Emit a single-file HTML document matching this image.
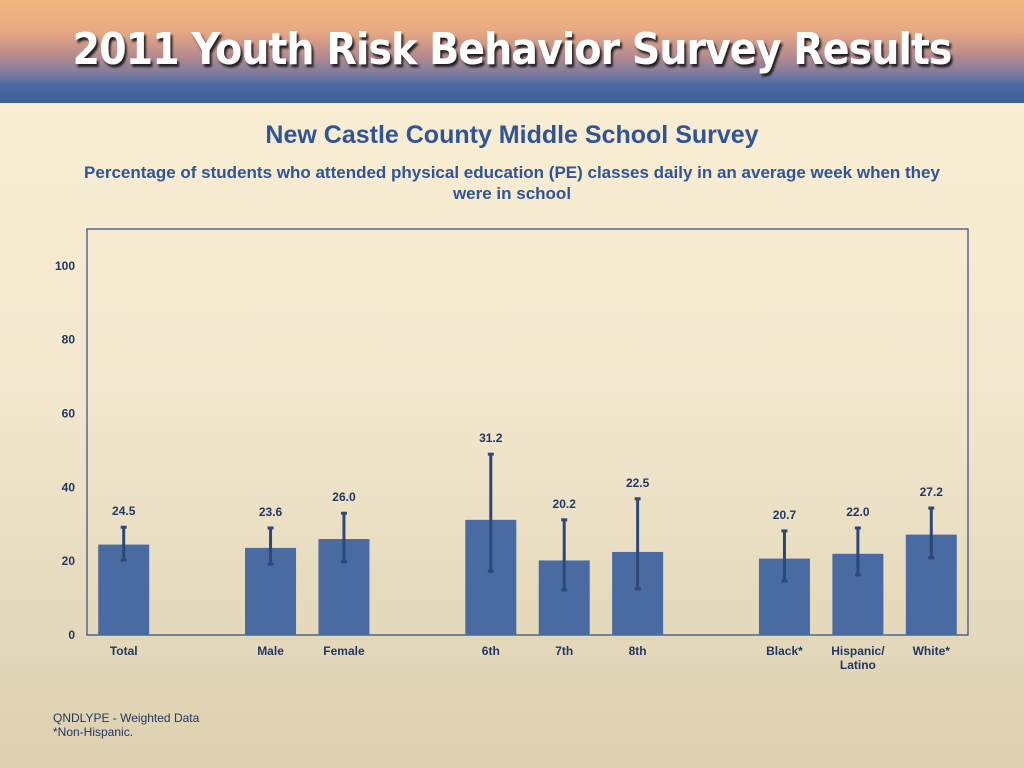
<!DOCTYPE html>
<html><head><meta charset="utf-8">
<style>
html,body{margin:0;padding:0;width:1024px;height:768px;overflow:hidden;font-family:"Liberation Sans",Arial,sans-serif;}
body{background:linear-gradient(#fbefd3 0%,#f3e8cf 50%,#ddd0b0 100%);position:relative;}
#hdr{position:absolute;left:0;top:0;width:1024px;height:103px;background:linear-gradient(#efb87e 0%,#e9a982 30%,#b48a8f 55%,#7c7aa0 72%,#4a6aa0 82%,#3d5f96 100%);}
#hdr .t{position:absolute;left:0;width:1024px;top:24px;text-align:center;font-size:44px;font-weight:bold;color:#fff;letter-spacing:-1px;text-shadow:2px 3px 2px #222;font-family:"DejaVu Sans Condensed","Liberation Sans Narrow","Liberation Sans",sans-serif;}
#title{position:absolute;left:0;width:1024px;top:121px;text-align:center;font-size:25px;font-weight:bold;color:#2f5597;}
#sub{position:absolute;left:72px;width:880px;top:162px;text-align:center;font-size:17px;font-weight:bold;color:#2f5597;line-height:21px;}
#foot{position:absolute;left:53px;top:711px;font-size:12px;color:#1f3864;line-height:14px;}
</style></head><body>
<div id="hdr"><div class="t">2011 Youth Risk Behavior Survey Results</div></div>
<div id="title">New Castle County Middle School Survey</div>
<div id="sub">Percentage of students who attended physical education (PE) classes daily in an average week when they were in school</div>
<svg id="chart" width="1024" height="768" style="position:absolute;left:0;top:0"></svg>
<div id="foot">QNDLYPE - Weighted Data<br>*Non-Hispanic.</div>
<script>
const categories=["Total","Male","Female","6th","7th","8th","Black*","Hispanic/\nLatino","White*"];
const slots=[0,2,3,5,6,7,9,10,11];
const values=[24.5,23.6,26.0,31.2,20.2,22.5,20.7,22.0,27.2];
const lower=[20.3,19.2,19.8,17.3,12.2,12.5,14.6,16.3,20.9];
const upper=[29.2,29.0,33.0,49.0,31.2,36.9,28.2,29.0,34.4];
const yTicks=[0,20,40,60,80,100];
const L=87,R=968,T=229,B=635,YMAX=110,NS=12;
const y=v=>B-(v/YMAX)*(B-T);
const sw=(R-L)/NS;
const xc=s=>L+sw/2+s*sw;
const svg=document.getElementById('chart');
const NS_="http://www.w3.org/2000/svg";
function mk(t,a){const e=document.createElementNS(NS_,t);for(const k in a)e.setAttribute(k,a[k]);svg.appendChild(e);return e;}
const frame=mk('rect',{x:L,y:T,width:R-L,height:B-T,fill:'none',stroke:'#3a5488','stroke-width':1.3});


yTicks.forEach(v=>{
  const t=mk('text',{x:75,y:y(v)+4,'text-anchor':'end','font-size':12,'font-weight':'bold',fill:'#1f3864','font-family':'Liberation Sans'});
  t.textContent=v;
  
  
});
categories.forEach((c,i)=>{
  const cx=xc(slots[i]),bw=51;
  const b=mk('rect',{x:cx-bw/2,y:y(values[i]),width:bw,height:B-y(values[i]),fill:'#4a6aa2'});
  
  
  const g=mk('g',{stroke:'#2c4878','stroke-width':3});
  
  
  [['line',{x1:cx,x2:cx,y1:y(upper[i]),y2:y(lower[i])}],['line',{x1:cx-3,x2:cx+3,y1:y(upper[i]),y2:y(upper[i])}],['line',{x1:cx-3,x2:cx+3,y1:y(lower[i]),y2:y(lower[i])}]].forEach(([t,a])=>{const e=document.createElementNS(NS_,t);for(const k in a)e.setAttribute(k,a[k]);g.appendChild(e);});
  const vl=mk('text',{x:cx,y:y(upper[i])-12,'text-anchor':'middle','font-size':12,'font-weight':'bold',fill:'#1f3864','font-family':'Liberation Sans'});
  vl.textContent=values[i].toFixed(1);
  
  
  c.split('\n').forEach((ln,j)=>{
    const t=mk('text',{x:cx,y:655+j*14,'text-anchor':'middle','font-size':12,'font-weight':'bold',fill:'#1f3864','font-family':'Liberation Sans'});
    t.textContent=ln;
    
    
  });
});
</script>
</body></html>
